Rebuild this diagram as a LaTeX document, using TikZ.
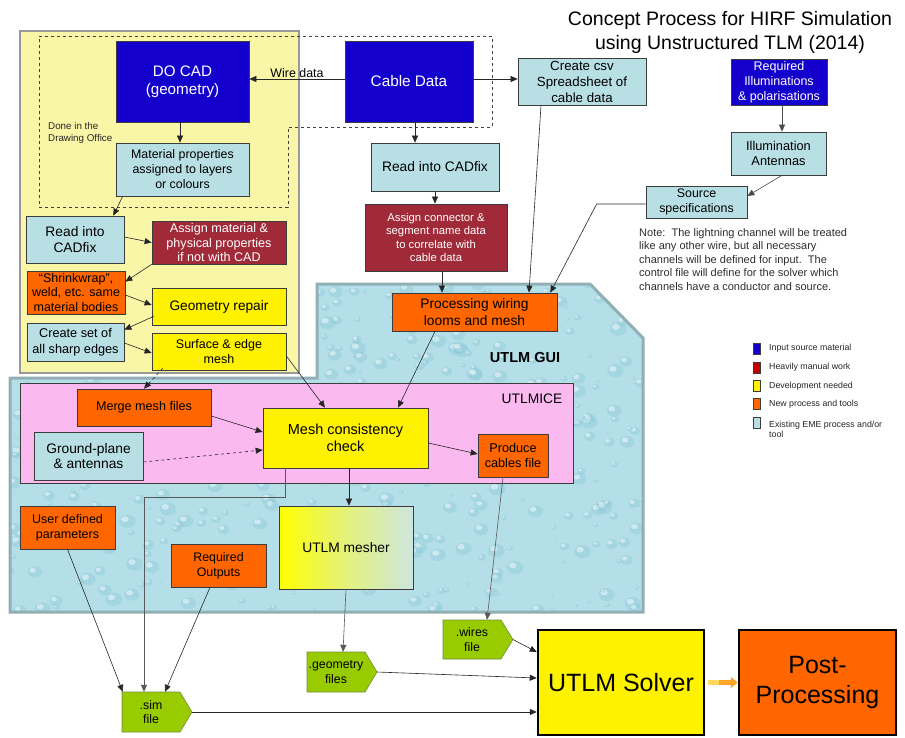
\documentclass[tikz,border=0pt]{standalone}
\usepackage{fontspec}
\setmainfont{Liberation Sans}
\usetikzlibrary{arrows.meta}
\definecolor{cblue}{RGB}{20,0,205}
\definecolor{cred}{RGB}{160,42,56}
\definecolor{corange}{RGB}{255,102,0}
\definecolor{lblue}{RGB}{184,223,228}
\definecolor{panel}{RGB}{250,246,168}
\definecolor{cpink}{RGB}{250,186,240}
\definecolor{cgreen}{RGB}{153,204,0}
\definecolor{gbord}{RGB}{110,140,60}
\definecolor{water}{RGB}{180,223,233}
\definecolor{waterd}{RGB}{130,195,212}
\definecolor{waterb}{RGB}{145,175,180}
\definecolor{bord}{RGB}{60,60,60}
\definecolor{legred}{RGB}{192,0,0}
\definecolor{meshend}{RGB}{205,230,222}
\definecolor{arrorange}{RGB}{255,165,40}
\definecolor{arrlight}{RGB}{255,215,90}
\newcommand{\fs}[2]{\fontsize{#1}{#2}\selectfont}
\begin{document}
\begin{tikzpicture}[x=1pt,y=-1pt,
  box/.style={draw=bord, line width=0.7pt, inner sep=0pt, align=center, text=black},
  lb/.style={box, fill=lblue},
  bl/.style={box, fill=cblue, text=white},
  rd/.style={box, fill=cred, text=white},
  yl/.style={box, fill=yellow},
  og/.style={box, fill=corange},
  gtext/.style={inner sep=0pt, align=center, font=\fs{12.3}{14.5}},
  gshape/.style={fill=cgreen, draw=gbord, line width=0.6pt},
  arr/.style={-{Triangle[length=7pt,width=6pt]}, line width=0.6pt, draw=black!85},
  darr/.style={arr, dashed},
  legsq/.style={draw=bord, line width=0.5pt, minimum width=6.5, minimum height=11, inner sep=0pt},
  legtxt/.style={inner sep=0pt, anchor=west, align=left, font=\fs{8.8}{10}, text=black!85}
]
\useasboundingbox (0,0) rectangle (905,738);
\fill[white] (0,0) rectangle (905,738);

% yellow panel and dashed drawing-office boundary
\draw[fill=panel, draw=black!40, line width=1.2pt] (20,31) rectangle (299,373);
\draw[dashed, line width=0.7pt, draw=black!75] (39,36) -- (492,36) -- (492,127) -- (288,127) -- (288,207) -- (39,207) -- cycle;

% water region (UTLM GUI)
\fill[water] (10,378) -- (317,378) -- (317,284) -- (590,284) -- (643,338) -- (643,612) -- (10,612) -- cycle;
\begin{scope}
  \clip (10,378) -- (317,378) -- (317,284) -- (590,284) -- (643,338) -- (643,612) -- (10,612) -- cycle;
  \pgfmathsetseed{11}
  \foreach \i in {1,...,520}{
    \pgfmathsetmacro{\xx}{10+633*rnd}
    \pgfmathsetmacro{\yy}{284+328*rnd}
    \pgfmathsetmacro{\rr}{1.5+7*rnd}
    \fill[waterd, opacity=0.3] (\xx,\yy) ellipse ({\rr} and {0.8*\rr});
    \fill[white, opacity=0.45] (\xx-0.3*\rr,\yy-0.25*\rr) ellipse ({0.45*\rr} and {0.35*\rr});
  }
\end{scope}
\draw[draw=waterb, line width=3pt] (10,378) -- (317,378) -- (317,284) -- (590,284) -- (643,338) -- (643,612) -- (10,612) -- cycle;

% UTLMICE region
\draw[fill=cpink, draw=bord, line width=0.8pt] (20,383) rectangle (573,483);

% titles and labels
\node[font=\fs{19.5}{24}, align=center, inner sep=0pt] (title) at (730,32) {Concept Process for HIRF Simulation\\using Unstructured TLM (2014)};
\node[font=\fs{9.8}{12}, align=left, anchor=north west, inner sep=0pt, text=black!85] (dolabel) at (48,122) {Done in the\\Drawing Office};
\node[font=\bfseries\fs{14.5}{17}, inner sep=0pt] (guilabel) at (525,358) {UTLM GUI};
\node[font=\fs{13.8}{16}, inner sep=0pt] (micelabel) at (532,399) {UTLMICE};
\node[font=\fs{11}{13.5}, align=left, anchor=north west, inner sep=0pt, text=black!82] (note) at (639,228) {Note:\ \ The lightning channel will be treated\\like any other wire, but all necessary\\channels will be defined for input.\ \ The\\control file will define for the solver which\\channels have a conductor and source.};

% boxes
\node[bl, minimum width=133, minimum height=81, font=\fs{15.2}{18}] (docad) at (182.5,81.5) {DO CAD\\(geometry)};
\node[bl, minimum width=128, minimum height=81, font=\fs{15.3}{18}] (cable) at (409,81.5) {Cable Data};
\node[lb, minimum width=133, minimum height=53, font=\fs{12.4}{15}] (matprop) at (182.5,169.5) {Material properties\\assigned to layers\\or colours};
\node[lb, minimum width=98, minimum height=47, font=\fs{13.8}{16.5}] (readL) at (75,239.5) {Read into\\CADfix};
\node[rd, minimum width=134, minimum height=43, font=\fs{12.6}{14.6}] (assignmat) at (219,242.5) {Assign material \&\\physical properties\\if not with CAD};
\node[og, minimum width=98, minimum height=43, font=\fs{12.5}{14.6}] (shrink) at (76,292.5) {“Shrinkwrap”,\\weld, etc. same\\material bodies};
\node[yl, minimum width=134, minimum height=37, font=\fs{13.7}{16}] (georep) at (219,306.5) {Geometry repair};
\node[lb, minimum width=97, minimum height=38, font=\fs{12.7}{15.5}] (sharp) at (75.5,342) {Create set of\\all sharp edges};
\node[yl, minimum width=134, minimum height=37, font=\fs{12.5}{14.5}] (surf) at (219,351.5) {Surface \& edge\\mesh};
\node[og, minimum width=134, minimum height=37, font=\fs{12.6}{15}] (merge) at (144,407.5) {Merge mesh files};
\node[lb, minimum width=109, minimum height=48, font=\fs{13.8}{15.5}] (ground) at (88.5,456) {Ground-plane\\\& antennas};
\node[yl, minimum width=165, minimum height=60, font=\fs{14.5}{16.7}] (mesh) at (345.5,438) {Mesh consistency\\check};
\node[og, minimum width=165, minimum height=38, font=\fs{13.8}{16.3}] (proc) at (474.5,312) {Processing wiring\\looms and mesh};
\node[og, minimum width=70, minimum height=43, font=\fs{12.7}{14.5}] (produce) at (513,455.5) {Produce\\cables file};
\node[lb, minimum width=128, minimum height=48, font=\fs{13.8}{16}] (readM) at (435,167) {Read into CADfix};
\node[rd, minimum width=142, minimum height=67, font=\fs{11.3}{13.3}] (assignconn) at (436,237.5) {Assign connector \&\\segment name data\\to correlate with\\cable data};
\node[lb, minimum width=128, minimum height=47, font=\fs{13.3}{16}] (csv) at (582,81.5) {Create csv\\Spreadsheet of\\cable data};
\node[bl, minimum width=96, minimum height=46, font=\fs{12.5}{15}] (reqillum) at (779,82) {Required\\Illuminations\\\& polarisations};
\node[lb, minimum width=95, minimum height=43, font=\fs{12.8}{15}] (illant) at (778.5,153.5) {Illumination\\Antennas};
\node[lb, minimum width=101, minimum height=32, font=\fs{12.4}{15}] (source) at (696.5,202) {Source\\specifications};
\node[og, minimum width=95, minimum height=43, font=\fs{12.5}{15}] (usrdef) at (67.5,527.5) {User defined\\parameters};
\node[og, minimum width=95, minimum height=43, font=\fs{12.4}{15}] (reqout) at (218.5,565.5) {Required\\Outputs};
\node[box, minimum width=134, minimum height=83, font=\fs{13.8}{16}, left color=yellow, right color=meshend, middle color={yellow!45!meshend}] (mesher) at (346,547.5) {UTLM mesher};
\node[box, fill=yellow, draw=black, line width=2.5pt, minimum width=166, minimum height=105, font=\fs{25}{30}] (solver) at (621,682.5) {UTLM Solver};
\node[box, fill=corange, draw=black, line width=2.5pt, minimum width=157, minimum height=105, font=\fs{25}{30.5}] (post) at (817.5,682.5) {Post-\\Processing};

% green file shapes
\draw[gshape] (122,692) -- (180,692) -- (192,712) -- (180,732) -- (122,732) -- cycle;
\node[gtext, minimum width=58, minimum height=40] (sim) at (151,712) {.sim\\file};
\coordinate (simtip) at (192,712);
\draw[gshape] (307,652) -- (365,652) -- (377,672) -- (365,692) -- (307,692) -- cycle;
\node[gtext, minimum width=58, minimum height=40] (geom) at (336,672) {.geometry\\files};
\coordinate (geomtip) at (377,672);
\draw[gshape] (443,620) -- (501,620) -- (513,639.5) -- (501,659) -- (443,659) -- cycle;
\node[gtext, minimum width=58, minimum height=39] (wires) at (472,639.5) {.wires\\file};
\coordinate (wirestip) at (513,639.5);

% legend
\node[legsq, fill=cblue] (lg1) at (756.5,348.5) {};
\node[legsq, fill=legred] (lg2) at (756.5,367.5) {};
\node[legsq, fill=yellow] (lg3) at (756.5,385.5) {};
\node[legsq, fill=corange] (lg4) at (756.5,404) {};
\node[legsq, fill=lblue] (lg5) at (756.5,423) {};
\node[legtxt] (lt1) at (769,348.5) {Input source material};
\node[legtxt] (lt2) at (769,367.5) {Heavily manual work};
\node[legtxt] (lt3) at (769,386) {Development needed};
\node[legtxt] (lt4) at (769,404.5) {New process and tools};
\node[legtxt] (lt5) at (769,429) {Existing EME process and/or\\tool};

% connectors
\draw[arr] ([yshift=2.5]cable.west) -- node[above=1.5pt, font=\fs{12.4}{14}, inner sep=0pt, pos=0.5] (wirelbl) {Wire data} ([yshift=2.5]docad.east);
\draw[arr] ([yshift=2.5]cable.east) -- ([yshift=2.5]csv.west);
\draw[arr] ([xshift=-2.5]docad.south) -- ([xshift=-2.5]matprop.north);
\draw[arr] ([xshift=7]matprop.south west) -- ([xshift=-11]readL.north east);
\draw[arr] ([yshift=2.5]readL.east) -- (assignmat.west);
\draw[arr] (assignmat.south west) -- ([yshift=-11]shrink.north east);
\draw[arr] ([yshift=-2.5]shrink.east) -- ([yshift=1.5]georep.west);
\draw[arr] ([xshift=2,yshift=9]georep.south west) -- ([yshift=-7]sharp.north east);
\draw[arr] ([yshift=-1]sharp.east) -- ([yshift=-1.5]surf.west);
\draw[darr] ([xshift=11,yshift=2]surf.south west) -- (merge.north);
\draw[arr] ([yshift=-8.5]merge.east) -- ([yshift=6]mesh.west);
\draw[darr] ([yshift=-6]ground.east) -- ([yshift=-12]mesh.west);
\draw[arr] ([yshift=-4.5]surf.east) -- ([xshift=-20.5]mesh.north);
\draw[arr] ([xshift=-39.5]proc.south) -- ([xshift=52.5]mesh.north);
\draw[arr] ([yshift=-5]mesh.east) -- ([yshift=1.5]produce.west);
\draw[arr] ([xshift=6]cable.south) -- ([xshift=-20]readM.north);
\draw[arr] (readM.south) -- (readM.south |- assignconn.north);
\draw[arr] ([xshift=6]assignconn.south) -- ([xshift=6]assignconn.south |- proc.north);
\draw[arr] ([xshift=-41]csv.south) -- ([xshift=54.5]proc.north);
\draw[arr, draw=black!70] ([xshift=3]reqillum.south) -- ([xshift=3.5]illant.north);
\draw[arr, draw=black!70] ([xshift=3.5]illant.south) -- ([yshift=6]source.east);
\draw[arr] ([yshift=-2]source.west) -- +(-49,0) -- ([xshift=-7]proc.north east);
\draw[arr] ([xshift=3.5]mesh.south) -- ([xshift=3]mesher.north);
\draw[arr, draw=black!65] ([xshift=23]mesh.south west) -- ++(0,29) -| ([xshift=-7]sim.north);
\draw[arr] (usrdef.south) -- ([xshift=1]sim.north west);
\draw[arr] ([xshift=-8.5]reqout.south) -- ([xshift=14]sim.north);
\draw[arr, draw=black!65] (mesher.south) -- ([xshift=7]geom.north);
\draw[arr, draw=black!65] ([xshift=-10]produce.south) -- ([xshift=15]wires.north);
\draw[arr] (simtip) -- (solver.west |- simtip);
\draw[arr] (geomtip) -- ([yshift=4.5]solver.west);
\draw[arr] (wirestip) -- ([yshift=30.5]solver.west);
\draw[line width=5pt, draw=arrorange, -{Triangle[length=7pt,width=11pt]}] ([xshift=3]solver.east) -- (post.west);
\draw[line width=5pt, draw=arrlight] ([xshift=3]solver.east) -- ([xshift=14]solver.east);
\end{tikzpicture}
\end{document}
